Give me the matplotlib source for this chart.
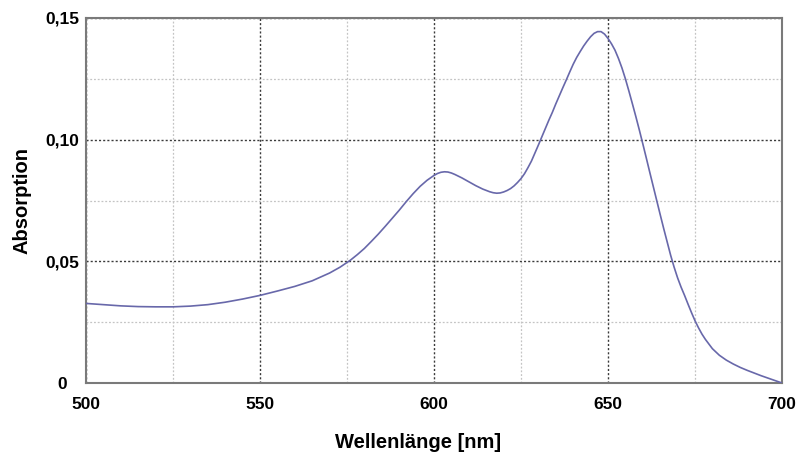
import matplotlib
matplotlib.use("Agg")
import matplotlib.pyplot as plt
from matplotlib.ticker import FixedLocator, FixedFormatter

# Absorption spectrum (wavelength in nm, absorbance)
wavelength = [500, 505, 510, 515, 520, 525, 530, 535, 540, 545, 550, 555, 560, 565,
              570, 573, 576, 578, 580, 582, 584, 586, 588, 590, 592, 594, 596, 598,
              600, 601, 602, 603, 604, 605, 606, 608, 610, 612, 614, 616, 617, 618,
              619, 620, 621, 622, 623, 624, 625, 626, 627, 628, 629, 630, 631, 632,
              633, 634, 635, 636, 637, 638, 639, 640, 641, 642, 643, 644, 645, 646,
              647, 648, 649, 650, 651, 652, 653, 654, 655, 656, 657, 658, 659, 660,
              661, 662, 663, 664, 665, 666, 667, 668, 669, 670, 671, 672, 673, 674,
              675, 676, 677, 678, 680, 682, 684, 686, 688, 690, 692, 694, 696, 698,
              700]
absorption = [0.0327, 0.0322, 0.0317, 0.0314, 0.0313, 0.0313, 0.0316, 0.0322, 0.0332,
              0.0345, 0.0360, 0.0378, 0.0397, 0.0420, 0.0452, 0.0476, 0.0505, 0.0528,
              0.0553, 0.0582, 0.0612, 0.0644, 0.0677, 0.0710, 0.0745, 0.0778, 0.0808,
              0.0833, 0.0853, 0.0861, 0.0866, 0.0868, 0.0867, 0.0863, 0.0857, 0.0843,
              0.0827, 0.0811, 0.0797, 0.0786, 0.0782, 0.0780, 0.0781, 0.0785, 0.0791,
              0.0799, 0.0810, 0.0824, 0.0840, 0.0860, 0.0885, 0.0912, 0.0945, 0.0978,
              0.1012, 0.1046, 0.1080, 0.1112, 0.1147, 0.1180, 0.1213, 0.1245, 0.1278,
              0.1310, 0.1338, 0.1362, 0.1385, 0.1405, 0.1423, 0.1437, 0.1444, 0.1444,
              0.1434, 0.1416, 0.1394, 0.1368, 0.1334, 0.1295, 0.1250, 0.1200, 0.1148,
              0.1095, 0.1040, 0.0983, 0.0925, 0.0866, 0.0808, 0.0750, 0.0692, 0.0635,
              0.0580, 0.0525, 0.0476, 0.0432, 0.0394, 0.0360, 0.0324, 0.0289, 0.0256,
              0.0227, 0.0201, 0.0179, 0.0141, 0.0114, 0.0094, 0.0078, 0.0064, 0.0052,
              0.0041, 0.0030, 0.0020, 0.0010, 0.0000]

x_major = [500, 550, 600, 650, 700]
x_major_labels = ["500", "550", "600", "650", "700"]
x_minor = [525, 575, 625, 675]
y_major = [0.0, 0.05, 0.10, 0.15]
y_major_labels = ["0", "0,05", "0,10", "0,15"]
y_minor = [0.025, 0.075, 0.125]

plt.rcParams['font.family'] = ['Liberation Sans', 'DejaVu Sans']

fig = plt.figure(figsize=(8.02, 4.57), dpi=100)
ax = fig.add_axes([86 / 802, 1 - 383 / 457, 696 / 802, 365 / 457])

ax.plot(wavelength, absorption, color="#6868aa", linewidth=1.2, zorder=3)

ax.set_xlim(500, 700)
ax.set_ylim(0, 0.15)

ax.xaxis.set_major_locator(FixedLocator(x_major))
ax.xaxis.set_major_formatter(FixedFormatter(x_major_labels))
ax.xaxis.set_minor_locator(FixedLocator(x_minor))
ax.yaxis.set_major_locator(FixedLocator(y_major))
ax.yaxis.set_major_formatter(FixedFormatter(y_major_labels))
ax.yaxis.set_minor_locator(FixedLocator(y_minor))

ax.grid(which="major", color="#3a3a3a", linestyle=(0, (1.5, 1.5)), linewidth=1.0)
ax.grid(which="minor", color="#c4c4c4", linestyle=(0, (1.5, 1.5)), linewidth=0.9)

ax.tick_params(which="both", length=0)
ax.tick_params(axis="x", pad=10, labelsize=12.5)
ax.tick_params(axis="y", pad=0, labelsize=12.5)
for lbl in ax.get_xticklabels():
    lbl.set_fontweight("bold")
# y tick labels are centred in a column left of the axis
for lbl in ax.get_yticklabels():
    lbl.set_fontweight("bold")
    lbl.set_horizontalalignment("center")
    lbl.set_x(-24 / 696)

for side in ("left", "bottom", "right", "top"):
    ax.spines[side].set_color("#7a7a7a")
    ax.spines[side].set_linewidth(1.5)

ax.set_xlabel("Wellenlänge [nm]", fontsize=14.5, fontweight="bold", va="center")
ax.xaxis.set_label_coords(332 / 696, -60 / 365)
ax.set_ylabel("Absorption", fontsize=14.5, fontweight="bold", va="center")
ax.yaxis.set_label_coords(-64 / 696, 0.5)

fig.savefig("out.png", dpi=100, facecolor="white")
